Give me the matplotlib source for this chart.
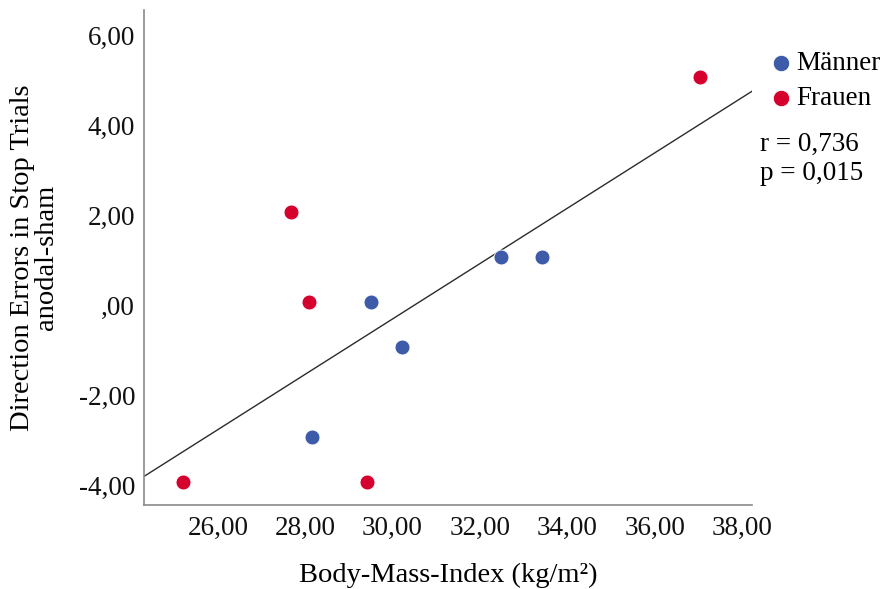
import matplotlib.pyplot as plt
import matplotlib.transforms as mtransforms
import numpy as np
from matplotlib.ticker import FuncFormatter

# Werte
bmi_maenner = [28.15, 29.50, 30.22, 32.48, 33.42]
err_maenner = [-3, 0, -1, 1, 1]
bmi_frauen = [25.20, 27.67, 28.08, 29.42, 37.03]
err_frauen = [-4, 2, 0, -4, 5]

x_ticks = [26, 28, 30, 32, 34, 36, 38]
y_ticks = [-4, -2, 0, 2, 4, 6]

blau = '#3d5ba9'
rot = '#d6002f'

plt.rcParams['font.family'] = ['Liberation Serif', 'DejaVu Serif']


def komma(v, pos=None):
    s = f"{v:.2f}".replace('.', ',')
    if s.startswith('0,'):
        s = s[1:]
    elif s.startswith('-0,'):
        s = '-' + s[2:]
    return s


fig = plt.figure(figsize=(8.88, 5.89), dpi=100)
ax = fig.add_axes([0.1622, 0.1426, 0.6846, 0.8404])

ax.scatter(bmi_maenner, err_maenner, s=115, color=blau, edgecolors='white',
           linewidths=0.6, label='Männer', zorder=3)
ax.scatter(bmi_frauen, err_frauen, s=115, color=rot, edgecolors='white',
           linewidths=0.6, label='Frauen', zorder=3)

# Regressionsgerade über alle Personen
x_all = np.array(bmi_maenner + bmi_frauen)
y_all = np.array(err_maenner + err_frauen)
m, b = np.polyfit(x_all, y_all, 1)
x_min, x_max = 24.31, 38.23
xs = np.array([x_min, x_max])
ax.plot(xs, m * xs + b, color='#2b2b2b', lw=1.0, zorder=2)

ax.set_xlim(x_min, x_max)
ax.set_ylim(-4.51, 6.5)
ax.set_xticks(x_ticks)
ax.set_yticks(y_ticks)
ax.xaxis.set_major_formatter(FuncFormatter(komma))
ax.yaxis.set_major_formatter(FuncFormatter(komma))
ax.tick_params(length=0, labelsize=19.5, colors='#111111')
ax.tick_params(axis='y', pad=6.5)
ax.tick_params(axis='x', pad=8)

# y-Beschriftungen etwas tiefer setzen, wie im Original
shift = mtransforms.ScaledTranslation(0, -3 / 100, fig.dpi_scale_trans)
for lab in ax.get_yticklabels():
    lab.set_transform(lab.get_transform() + shift)

for s in ['top', 'right']:
    ax.spines[s].set_visible(False)
for s in ['left', 'bottom']:
    ax.spines[s].set_color('#8a8a8a')
    ax.spines[s].set_linewidth(1.2)

ax.set_xlabel('Body-Mass-Index (kg/m²)', fontsize=20.5, va='center')
ax.xaxis.set_label_coords(0.5, -0.142)
ax.set_ylabel('Direction Errors in Stop Trials\nanodal-sham', fontsize=20.5,
              linespacing=0.95, va='center')
ax.yaxis.set_label_coords(-0.18, 0.5)

fig.legend(loc='upper left', bbox_to_anchor=(0.866, 0.913), frameon=False,
           fontsize=19.5, handlelength=0.9, handletextpad=0.12,
           labelspacing=0.36, borderaxespad=0, borderpad=0, markerscale=1.1)

fig.text(0.856, 0.730, 'r = 0,736\np = 0,015', fontsize=19.5,
         va='center', ha='left', linespacing=1.2)

fig.savefig('out.png', dpi=100, facecolor='white')
